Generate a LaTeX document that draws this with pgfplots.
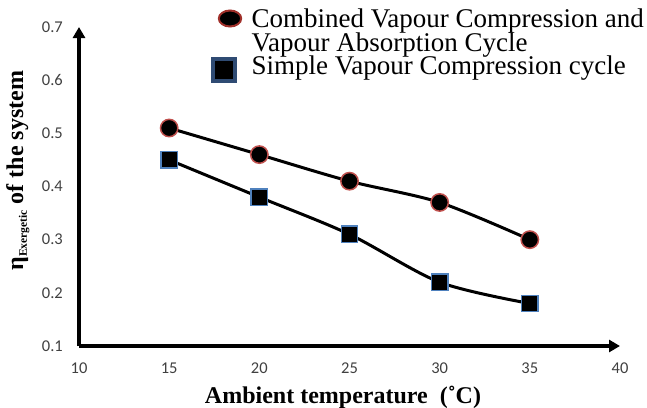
\documentclass[border=0pt]{standalone}
\usepackage{pgfplots}
\pgfplotsset{compat=1.18}
\usepackage{fontspec}
\setmainfont{Liberation Serif}
\newfontfamily\tickfont{Carlito}
\usetikzlibrary{arrows.meta}
\definecolor{mkred}{HTML}{C0504D}
\definecolor{mkblue}{HTML}{4F81BD}
\definecolor{lgred}{HTML}{A0302A}
\definecolor{lgblue}{HTML}{2F4B73}
\definecolor{ticktext}{HTML}{404040}
\pgfplotsset{
  leg circle/.style={legend image code/.code={\draw[##1] plot coordinates {(4pt,9.5pt)};}},
  leg square/.style={legend image code/.code={\draw[##1] plot coordinates {(-2pt,5pt)};}},
}

\begin{document}
\begin{tikzpicture}
\begin{axis}[
  at={(79pt,61pt)}, anchor=south west,
  scale only axis, width=541pt, height=319pt,
  xmin=10, xmax=40, ymin=0.1, ymax=0.7,
  axis lines=left,
  axis line style={line width=3.5pt, -{Triangle[length=11pt,width=12pt]}},
  xtick={10,15,...,40},
  ytick={0.1,0.2,...,0.7},
  major tick length=0pt,
  /pgf/number format/assume math mode=true,
  ticklabel style={font=\tickfont\fontsize{16.5}{16.5}\selectfont, text=ticktext},
  yticklabel style={inner sep=0pt, xshift=-16pt,
    /pgf/number format/.cd, fixed, fixed zerofill, precision=1},
  xticklabel style={inner sep=0pt, anchor=north, yshift=-17pt},
  xlabel={Ambient temperature\ \ (˚C)},
  xlabel style={font=\bfseries\fontsize{24}{24}\selectfont,
    at={(axis description cs:0.488,0)}, anchor=base, yshift=-57pt},
  ylabel={η\raisebox{-0.35ex}{\fontsize{11.5}{11.5}\selectfont Exergetic} of the system},
  ylabel style={font=\bfseries\fontsize{24}{24}\selectfont,
    at={(axis description cs:-0.113,0.55)}, anchor=center},
  legend style={draw=none, fill=none, inner sep=0pt, outer sep=0pt,
    at={(axis description cs:0.2477,1.0533)}, anchor=north west,
    font=\fontsize{27}{23.5}\selectfont,
    nodes={inner sep=0pt, text height=18pt, text depth=5.5pt, anchor=base west},
    /tikz/every odd column/.append style={column sep=10.5pt}},
  clip=false,
]
\addplot[forget plot, line width=3pt, smooth, mark=*, mark size=8.7pt,
  mark options={fill=black, draw=mkred, line width=1.5pt}]
  coordinates {(15,0.51) (20,0.46) (25,0.41) (30,0.37) (35,0.30)};
\addplot[forget plot, line width=3pt, smooth, mark=square*, mark size=8.2pt,
  mark options={fill=black, draw=mkblue, line width=1.5pt}]
  coordinates {(15,0.45) (20,0.38) (25,0.31) (30,0.22) (35,0.18)};

\addlegendimage{only marks, mark=*, mark size=8pt,
  mark options={xscale=1.4, fill=black, draw=lgred, line width=2pt}, leg circle}
\addlegendentry{Combined Vapour Compression and}
\addlegendimage{empty legend}
\addlegendentry{Vapour Absorption Cycle}
\addlegendimage{only marks, mark=square*, mark size=11pt,
  mark options={fill=black, draw=lgblue, line width=4pt}, leg square}
\addlegendentry{Simple Vapour Compression cycle}
\end{axis}
\pgfresetboundingbox
\path (0pt,0pt) rectangle (647pt,407pt);
\end{tikzpicture}
\end{document}
